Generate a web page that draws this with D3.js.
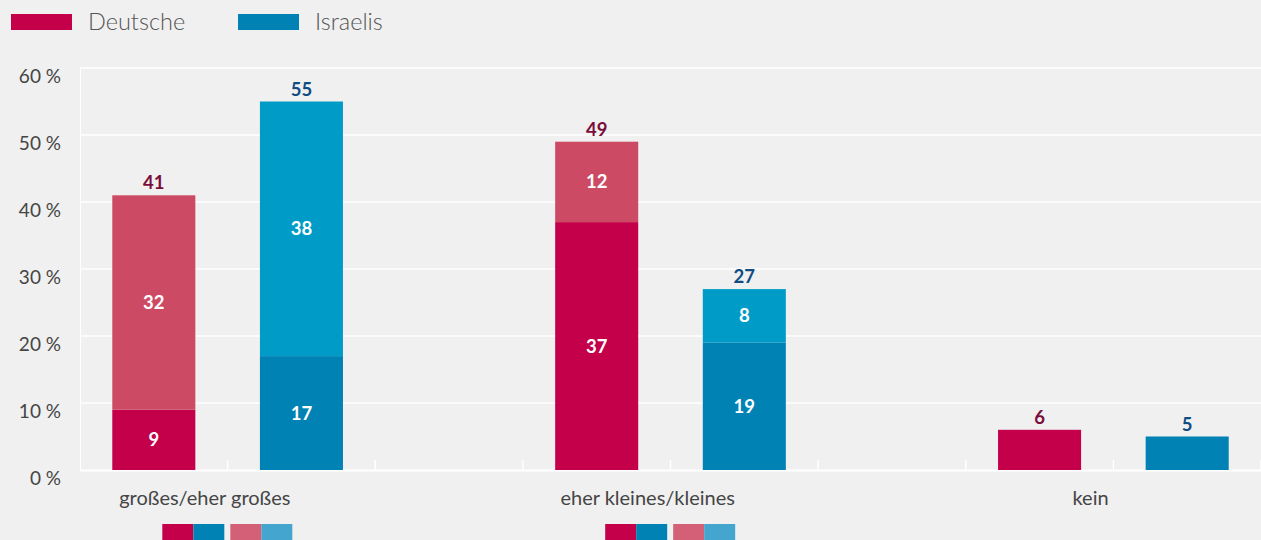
<!DOCTYPE html>
<html><head><meta charset="utf-8">
<script src="https://cdn.jsdelivr.net/npm/d3@7"></script>
<style>
html,body{margin:0;padding:0;background:#f0f0f0;}
svg{display:block;font-family:Lato,"Open Sans",sans-serif;}
</style></head>
<body><svg id="c" width="1261" height="540"></svg>
<script>
const categories = ["großes/eher großes", "eher kleines/kleines", "kein"];
const seriesNames = ["Deutsche", "Israelis"];
const deutscheBase = [9, 37, 6];
const deutscheTop = [32, 12, 0];
const israelisBase = [17, 19, 5];
const israelisTop = [38, 8, 0];
const yTicks = [0, 10, 20, 30, 40, 50, 60];
const showMiniLegend = [true, true, false];

const colors = {
  deDark: "#c4004a", deLight: "#cd4a64",
  ilDark: "#0082b4", ilLight: "#009bc6",
  deMini: "#d36076", ilMini: "#44a5cf",
  deTotal: "#7a0c3a", ilTotal: "#104b84"
};

const svg = d3.select("#c");
const plotLeft = 80, plotRight = 1261, plotTop = 68, plotBottom = 470;

const slots = [];
categories.forEach((c, i) => {
  slots.push(c + "|D", c + "|I");
  if (i < categories.length - 1) slots.push(c + "|gap");
});
const x = d3.scaleBand().domain(slots).range([plotLeft, plotRight])
  .paddingInner(0.4375).paddingOuter(0.21875);
const y = d3.scaleLinear().domain([0, 60]).range([plotBottom, plotTop]);

// gridlines
svg.append("g").selectAll("line").data(yTicks.filter(t => t > 0)).join("line")
  .attr("x1", plotLeft).attr("x2", plotRight)
  .attr("y1", d => y(d)).attr("y2", d => y(d))
  .attr("stroke", "#fff").attr("stroke-width", 1.5);

// left axis line
svg.append("line").attr("x1", plotLeft + 0.5).attr("x2", plotLeft + 0.5)
  .attr("y1", y(60)).attr("y2", plotBottom).attr("stroke", "#fff").attr("stroke-width", 1);

// y labels
svg.append("g").selectAll("text").data(yTicks).join("text")
  .attr("x", 61).attr("y", d => y(d) + 8).attr("dy", "0.35em")
  .attr("text-anchor", "end").attr("fill", "#454545")
  .style("font-size", "19px")
  .text(d => d + " %");

// x ticks at slot boundaries
const step = x.step();
const tickXs = d3.range(1, slots.length + 1).map(i => plotLeft + i * step);
svg.append("g").selectAll("line").data(tickXs).join("line")
  .attr("x1", d => d).attr("x2", d => d)
  .attr("y1", plotBottom - 10).attr("y2", plotBottom)
  .attr("stroke", "#fff").attr("stroke-width", 1.5);

// baseline
svg.append("line").attr("x1", plotLeft).attr("x2", plotRight)
  .attr("y1", plotBottom + 0.5).attr("y2", plotBottom + 0.5)
  .attr("stroke", "#fff").attr("stroke-width", 2);

// bars
const stacks = [];
categories.forEach((c, i) => {
  stacks.push({cat: c, key: c + "|D", base: deutscheBase[i], topv: deutscheTop[i],
    dark: colors.deDark, light: colors.deLight, total: colors.deTotal});
  stacks.push({cat: c, key: c + "|I", base: israelisBase[i], topv: israelisTop[i],
    dark: colors.ilDark, light: colors.ilLight, total: colors.ilTotal});
});

const bw = x.bandwidth();
const g = svg.append("g");
stacks.forEach(s => {
  const x0 = x(s.key);
  g.append("rect").attr("x", x0).attr("width", bw)
    .attr("y", y(s.base)).attr("height", y(0) - y(s.base)).attr("fill", s.dark);
  if (s.topv > 0) {
    g.append("rect").attr("x", x0).attr("width", bw)
      .attr("y", y(s.base + s.topv)).attr("height", y(s.base) - y(s.base + s.topv)).attr("fill", s.light);
    g.append("text").attr("x", x0 + bw / 2).attr("y", y(s.base / 2)).attr("dy", "0.35em")
      .attr("text-anchor", "middle").attr("fill", "#fff")
      .style("font-size", "18.5px").style("font-weight", "700").text(s.base);
    g.append("text").attr("x", x0 + bw / 2).attr("y", y(s.base + s.topv / 2)).attr("dy", "0.35em")
      .attr("text-anchor", "middle").attr("fill", "#fff")
      .style("font-size", "18.5px").style("font-weight", "700").text(s.topv);
  }
  const total = s.base + s.topv;
  g.append("text").attr("x", x0 + bw / 2).attr("y", y(total) - 6)
    .attr("text-anchor", "middle").attr("fill", s.total)
    .style("font-size", "18.5px").style("font-weight", "700").text(total);
});

// category labels
categories.forEach((c, i) => {
  svg.append("text").attr("x", x(c + "|D") + bw / 2 + 51).attr("y", 505)
    .attr("text-anchor", "middle").attr("fill", "#454545")
    .style("font-size", "20px").text(c);
});

// mini legends under categories
categories.forEach((c, i) => {
  if (!showMiniLegend[i]) return;
  const sx = x(c + "|D") + bw / 2 + 8.5;
  const sw = [colors.deDark, colors.ilDark, colors.deMini, colors.ilMini];
  const offs = [0, 31, 68, 99];
  sw.forEach((col, j) => {
    svg.append("rect").attr("x", sx + offs[j]).attr("y", 524)
      .attr("width", 31).attr("height", 20).attr("fill", col);
  });
});

// top legend
const legX = [11, 238];
seriesNames.forEach((n, i) => {
  svg.append("rect").attr("x", legX[i]).attr("y", 14).attr("width", 61).attr("height", 16)
    .attr("fill", i === 0 ? colors.deDark : colors.ilDark);
  svg.append("text").attr("x", legX[i] + 77).attr("y", 30)
    .attr("fill", "#555").style("font-size", "23.5px").style("font-weight", "300").text(n);
});
</script></body></html>
